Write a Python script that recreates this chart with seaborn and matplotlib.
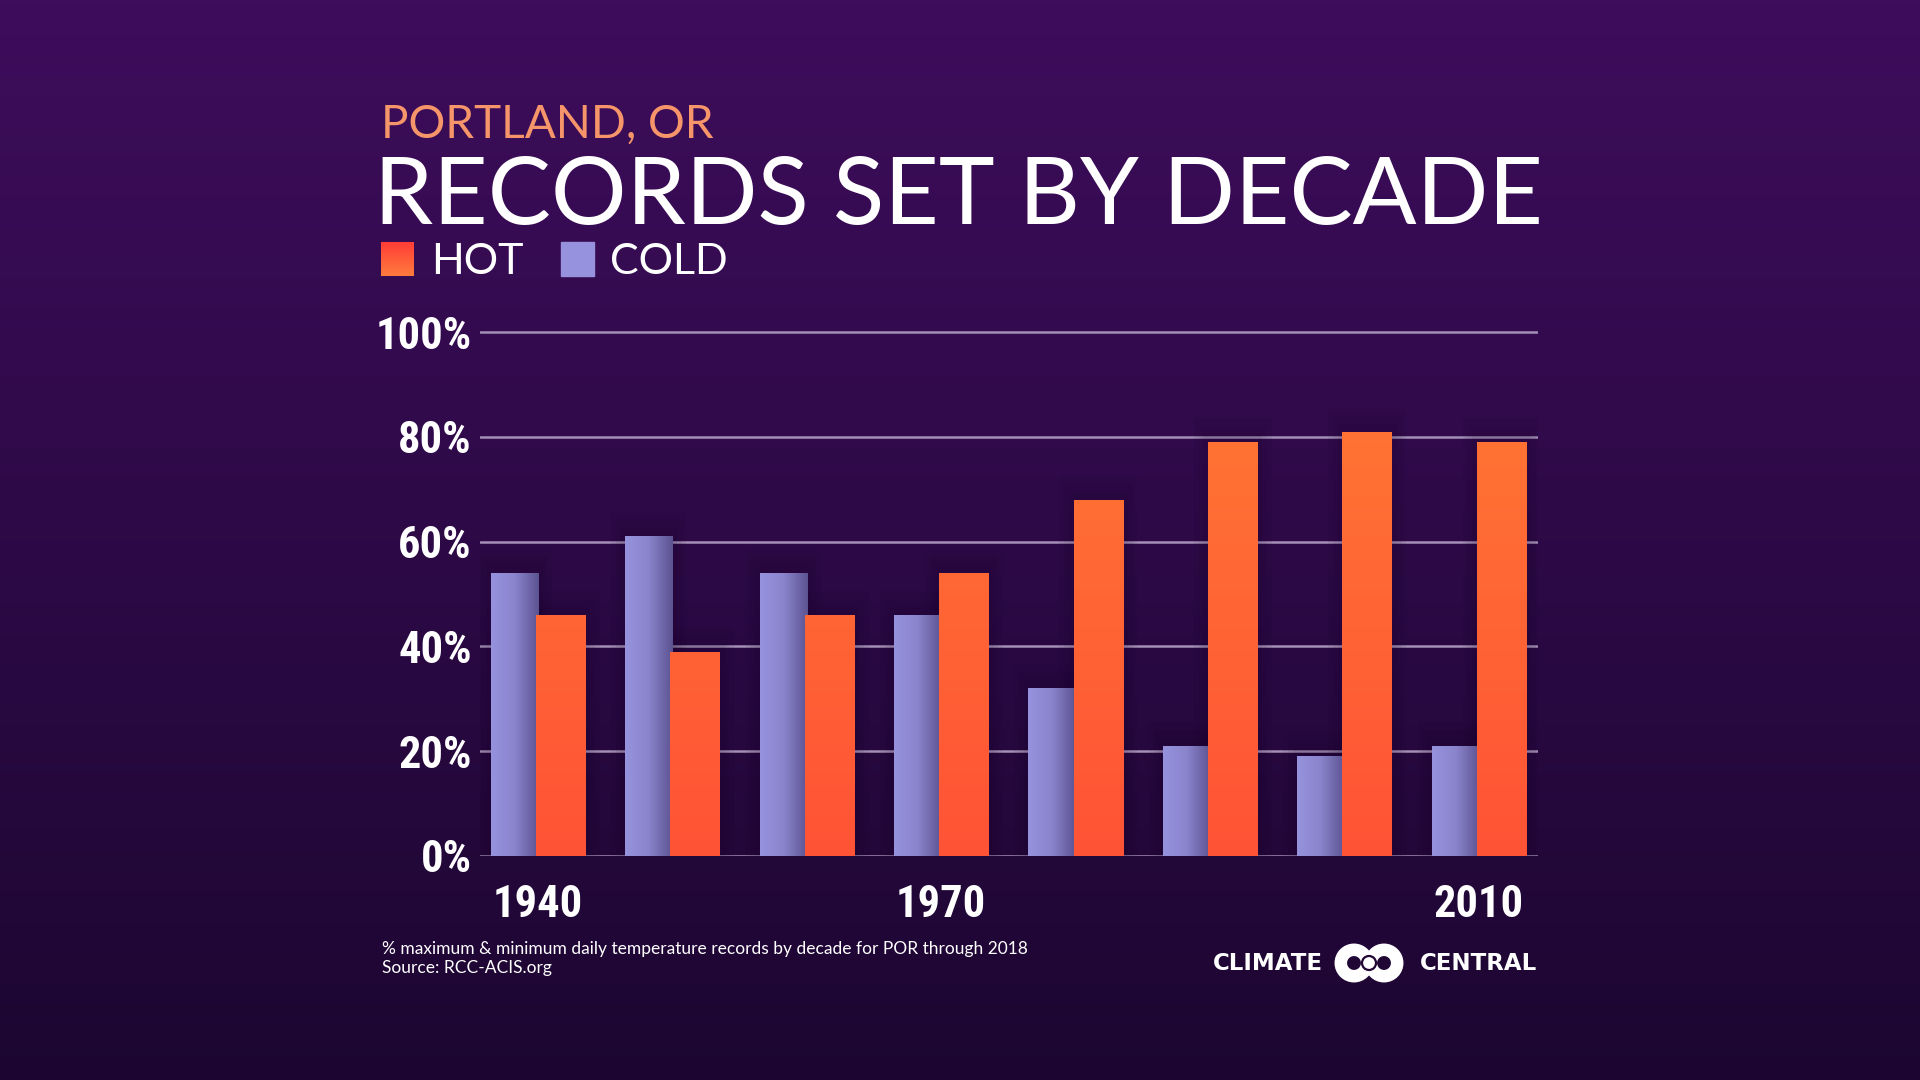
import numpy as np
import pandas as pd
import matplotlib
matplotlib.use('Agg')
import matplotlib.pyplot as plt
from matplotlib.colors import LinearSegmentedColormap
from matplotlib.patches import Circle, Rectangle
from matplotlib.transforms import IdentityTransform
import seaborn as sns

# data (% of daily records per decade)
decades = ['1940', '1950', '1960', '1970', '1980', '1990', '2000', '2010']
cold = [54, 61, 54, 46, 32, 21, 19, 21]
hot = [46, 39, 46, 54, 68, 79, 81, 79]
shown_years = ['1940', '1970', '2010']
y_ticks = [0, 20, 40, 60, 80, 100]

bg_top = '#3e0d5c'
bg_bottom = '#1c0631'
cold_light = '#9692dd'
cold_dark = '#5c5392'
hot_top = '#ff7a33'
hot_bottom = '#ff5336'
grid_col = '#a48fb6'

W, H = 1920, 1080


def fx(px):
    return px / W


def fy(py):
    return 1 - py / H


sns.set_theme(style='white')
plt.rcParams['font.family'] = ['Lato', 'DejaVu Sans']
# condensed face for the numbers, first one installed wins
num_font = ['Roboto Condensed', 'Liberation Sans Narrow', 'DejaVu Sans Condensed',
            'Roboto', 'DejaVu Sans']

fig = plt.figure(figsize=(19.2, 10.8), dpi=100)

# background gradient
bg = fig.add_axes([0, 0, 1, 1], zorder=-10)
bg_cmap = LinearSegmentedColormap.from_list('bg', [bg_top, bg_bottom])
bg.imshow(np.linspace(0, 1, 256)[:, None], aspect='auto', cmap=bg_cmap,
          extent=[0, 1, 0, 1])
bg.axis('off')

ax = fig.add_axes([fx(480), fy(856), fx(1538 - 480), (856 - 326.8) / H])
ax.patch.set_alpha(0)

df = pd.DataFrame({'decade': decades * 2,
                   'kind': ['COLD'] * len(decades) + ['HOT'] * len(decades),
                   'pct': cold + hot})
sns.barplot(data=df, x='decade', y='pct', hue='kind', hue_order=['COLD', 'HOT'],
            order=decades, palette={'COLD': cold_light, 'HOT': hot_bottom},
            width=0.7, dodge=True, legend=False, ax=ax, zorder=3,
            errorbar=None, linewidth=0)

cold_cmap = LinearSegmentedColormap.from_list('c', [cold_light, '#8a84cc', cold_dark])
hot_cmap = LinearSegmentedColormap.from_list('h', [hot_bottom, hot_top])

bars = list(ax.patches)
for i, p in enumerate(bars):
    x0, w, h = p.get_x(), p.get_width(), p.get_height()
    if i >= len(decades):
        # hot bars a touch wider, overlapping the cold one
        p.set_x(x0 - 0.015)
        p.set_width(w + 0.02)
        x0, w = p.get_x(), p.get_width()
    # soft shadow behind each bar
    for k in range(3):
        s = 0.035 * (k + 1)
        ax.add_patch(Rectangle((x0 - s, 0), w + 2 * s, h + 1.5 * (k + 1),
                               color='#12021f', alpha=0.06, zorder=1, lw=0))
    if i < len(decades):
        img = ax.imshow(np.linspace(0, 1, 64)[None, :], cmap=cold_cmap,
                        aspect='auto', extent=[x0, x0 + w, 0, h], zorder=3)
    else:
        img = ax.imshow(np.linspace(0, 1, 128)[:, None], cmap=hot_cmap,
                        origin='lower', aspect='auto',
                        extent=[x0, x0 + w, 0, 100], zorder=4)
        p.set_zorder(4)
    img.set_clip_path(p)
    p.set_facecolor('none')

ax.set_xlim(-0.43, 7.44)
ax.set_ylim(0, 101)
ax.set_yticks(y_ticks)
ax.set_yticklabels([f'{v}%' for v in y_ticks])
ax.set_xticks([decades.index(y) for y in shown_years])
ax.set_xticklabels(shown_years)
ax.yaxis.grid(True, color=grid_col, lw=1.8, zorder=0)
ax.set_axisbelow(True)
ax.set_xlabel('')
ax.set_ylabel('')
for s in ax.spines.values():
    s.set_visible(False)
ax.tick_params(axis='y', length=0, pad=6, labelcolor='white', labelsize=32)
ax.tick_params(axis='x', length=0, pad=20, labelcolor='white', labelsize=32)
for lab in ax.get_yticklabels() + ax.get_xticklabels():
    lab.set_family(num_font)
    lab.set_fontweight('bold')

# titles
fig.text(fx(381), fy(138), 'PORTLAND, OR', color='#f7956a', fontsize=33,
         va='baseline', ha='left')
fig.text(fx(374), fy(224), 'RECORDS SET BY DECADE', color='white', fontsize=68,
         va='baseline', ha='left')

# legend
leg = fig.add_axes([fx(381), fy(276), fx(33), 34 / H])
leg.imshow(np.linspace(0, 1, 64)[:, None], aspect='auto',
           cmap=LinearSegmentedColormap.from_list('l', ['#ff3d36', '#ff7c3e']))
leg.axis('off')
fig.patches.append(Rectangle((fx(561), fy(276)), fx(33), 34 / H,
                             transform=fig.transFigure, color=cold_light))
fig.text(fx(431), fy(274), 'HOT', color='white', fontsize=31, va='baseline')
fig.text(fx(610), fy(274), 'COLD', color='white', fontsize=31, va='baseline')

# footer
fig.text(fx(382), fy(954), '% maximum & minimum daily temperature records by decade for POR through 2018',
         color='white', fontsize=12.5, va='baseline')
fig.text(fx(382), fy(973), 'Source: RCC-ACIS.org', color='white', fontsize=12.5,
         va='baseline')

# logo
fig.text(fx(1213), fy(963), 'CLIMATE', color='white', fontsize=16.5,
         fontweight='bold', va='center', family=['DejaVu Sans'])
fig.text(fx(1537), fy(963), 'CENTRAL', color='white', fontsize=16.5,
         fontweight='bold', va='center', ha='right', family=['DejaVu Sans'])
for cx in [1354, 1384]:
    fig.patches.append(Circle((cx, H - 963), 13.2, transform=IdentityTransform(),
                              facecolor='none', edgecolor='white', lw=9))
fig.patches.append(Circle((1369, H - 963), 7, transform=IdentityTransform(),
                          facecolor='none', edgecolor='#220735', lw=1.6))

fig.savefig('out.png', dpi=100)
